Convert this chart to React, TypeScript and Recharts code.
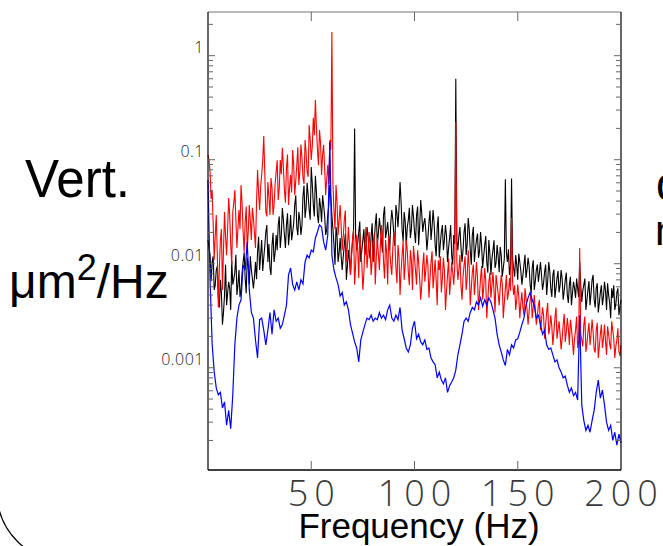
import { LineChart, Line, XAxis, YAxis } from "recharts";

// frequency grid (Hz)
const freqHz = [
  0, 1, 2, 3, 4, 5, 6, 7, 8, 9, 10, 11, 12, 13, 14, 15, 16, 17, 18, 19,
  20, 21, 22, 23, 24, 25, 26, 27, 28, 29, 30, 31, 32, 33, 34, 35, 36, 37, 38, 39,
  40, 41, 42, 43, 44, 45, 46, 47, 48, 49, 50, 51, 52, 53, 54, 55, 56, 57, 58, 59,
  60, 61, 62, 63, 64, 65, 66, 67, 68, 69, 70, 71, 72, 73, 74, 75, 76, 77, 78, 79,
  80, 81, 82, 83, 84, 85, 86, 87, 88, 89, 90, 91, 92, 93, 94, 95, 96, 97, 98, 99,
  100, 101, 102, 103, 104, 105, 106, 107, 108, 109, 110, 111, 112, 113, 114, 115, 116, 117, 118, 119,
  120, 121, 122, 123, 124, 125, 126, 127, 128, 129, 130, 131, 132, 133, 134, 135, 136, 137, 138, 139,
  140, 141, 142, 143, 144, 145, 146, 147, 148, 149, 150, 151, 152, 153, 154, 155, 156, 157, 158, 159,
  160, 161, 162, 163, 164, 165, 166, 167, 168, 169, 170, 171, 172, 173, 174, 175, 176, 177, 178, 179,
  180, 181, 182, 183, 184, 185, 186, 187, 188, 189, 190, 191, 192, 193, 194, 195, 196, 197, 198, 199,
  200,
];

// in-between bins (Hz) for the two noisier traces
const freqMidHz = [
  0.5, 1.5, 2.5, 3.5, 4.5, 5.5, 6.5, 7.5, 8.5, 9.5, 10.5, 11.5, 12.5, 13.5, 14.5, 15.5, 16.5, 17.5, 18.5, 19.5,
  20.5, 21.5, 22.5, 23.5, 24.5, 25.5, 26.5, 27.5, 28.5, 29.5, 30.5, 31.5, 32.5, 33.5, 34.5, 35.5, 36.5, 37.5, 38.5, 39.5,
  40.5, 41.5, 42.5, 43.5, 44.5, 45.5, 46.5, 47.5, 48.5, 49.5, 50.5, 51.5, 52.5, 53.5, 54.5, 55.5, 56.5, 57.5, 58.5, 59.5,
  60.5, 61.5, 62.5, 63.5, 64.5, 65.5, 66.5, 67.5, 68.5, 69.5, 70.5, 71.5, 72.5, 73.5, 74.5, 75.5, 76.5, 77.5, 78.5, 79.5,
  80.5, 81.5, 82.5, 83.5, 84.5, 85.5, 86.5, 87.5, 88.5, 89.5, 90.5, 91.5, 92.5, 93.5, 94.5, 95.5, 96.5, 97.5, 98.5, 99.5,
  100.5, 101.5, 102.5, 103.5, 104.5, 105.5, 106.5, 107.5, 108.5, 109.5, 110.5, 111.5, 112.5, 113.5, 114.5, 115.5, 116.5, 117.5, 118.5, 119.5,
  120.5, 121.5, 122.5, 123.5, 124.5, 125.5, 126.5, 127.5, 128.5, 129.5, 130.5, 131.5, 132.5, 133.5, 134.5, 135.5, 136.5, 137.5, 138.5, 139.5,
  140.5, 141.5, 142.5, 143.5, 144.5, 145.5, 146.5, 147.5, 148.5, 149.5, 150.5, 151.5, 152.5, 153.5, 154.5, 155.5, 156.5, 157.5, 158.5, 159.5,
  160.5, 161.5, 162.5, 163.5, 164.5, 165.5, 166.5, 167.5, 168.5, 169.5, 170.5, 171.5, 172.5, 173.5, 174.5, 175.5, 176.5, 177.5, 178.5, 179.5,
  180.5, 181.5, 182.5, 183.5, 184.5, 185.5, 186.5, 187.5, 188.5, 189.5, 190.5, 191.5, 192.5, 193.5, 194.5, 195.5, 196.5, 197.5, 198.5, 199.5,
];

// PSD, um^2/Hz
const blackPsd = [
  0.0169, 0.0121, 0.0104, 0.0056, 0.0087, 0.0047, 0.007, 0.0026, 0.005, 0.004,
  0.0067, 0.0036, 0.0063, 0.0083, 0.005, 0.0087, 0.0056, 0.0104, 0.0073, 0.0114,
  0.0063, 0.0087, 0.0058, 0.0104, 0.013, 0.0087, 0.0169, 0.0114, 0.0202, 0.0104,
  0.0091, 0.0151, 0.0104, 0.0189, 0.0236, 0.0142, 0.0343, 0.0189, 0.0236, 0.0151,
  0.0294, 0.0202, 0.0367, 0.0225, 0.0314, 0.0189, 0.045, 0.0275, 0.06, 0.0328,
  0.085, 0.0367, 0.07, 0.0294, 0.0428, 0.0252, 0.0367, 0.0189, 0.0294, 0.0571,
  0.0294, 0.0151, 0.0225, 0.0104, 0.0177, 0.0087, 0.0151, 0.007, 0.0135, 0.0078,
  0.0169, 0.2, 0.0135, 0.0202, 0.0104, 0.0169, 0.0121, 0.0225, 0.0135, 0.0189,
  0.0104, 0.0236, 0.0151, 0.0275, 0.0169, 0.0294, 0.0177, 0.0252, 0.0135, 0.0328,
  0.0189, 0.0367, 0.0225, 0.061, 0.0211, 0.0314, 0.0151, 0.0263, 0.0177, 0.0367,
  0.0202, 0.0294, 0.0151, 0.041, 0.0202, 0.0275, 0.0135, 0.0252, 0.0169, 0.0328,
  0.0151, 0.0225, 0.0114, 0.0202, 0.0135, 0.0236, 0.0104, 0.0177, 0.0121, 0.0189,
  0.6, 0.0135, 0.0225, 0.0104, 0.0202, 0.0121, 0.0275, 0.0135, 0.0189, 0.0104,
  0.0169, 0.0114, 0.0202, 0.0091, 0.0151, 0.0104, 0.0169, 0.0078, 0.0135, 0.0091,
  0.0151, 0.0083, 0.0121, 0.0091, 0.065, 0.0104, 0.0078, 0.066, 0.0091, 0.0121,
  0.007, 0.0104, 0.0063, 0.0097, 0.0073, 0.0114, 0.0063, 0.0091, 0.0056, 0.0087,
  0.0067, 0.0104, 0.0056, 0.0083, 0.005, 0.0104, 0.0058, 0.0078, 0.0047, 0.0073,
  0.0053, 0.0087, 0.0045, 0.007, 0.005, 0.0063, 0.004, 0.0067, 0.0047, 0.0058,
  0.0104, 0.0043, 0.0063, 0.0036, 0.0056, 0.004, 0.007, 0.0045, 0.0058, 0.0034,
  0.0053, 0.004, 0.0067, 0.0036, 0.005, 0.003, 0.0047, 0.0036, 0.0053, 0.0032,
  0.0045,
];

const blackMidPsd = [
  0.0142, 0.0068, 0.0118, 0.0062, 0.0095, 0.0038, 0.0052, 0.0034, 0.0098, 0.0052,
  0.0058, 0.0108, 0.0071, 0.0122, 0.0062, 0.0048, 0.0082, 0.0128, 0.0052, 0.0095,
  0.0118, 0.0072, 0.0075, 0.0071, 0.0182, 0.0122, 0.0085, 0.0148, 0.0235, 0.0155,
  0.0078, 0.0198, 0.0128, 0.0135, 0.0285, 0.0188, 0.0265, 0.0142, 0.0305, 0.0198,
  0.0168, 0.0245, 0.0455, 0.0188, 0.0265, 0.0235, 0.0565, 0.0345, 0.0455, 0.0265,
  0.0585, 0.0285, 0.0495, 0.0245, 0.0355, 0.0455, 0.0285, 0.0215, 0.0365, 0.0425,
  0.0215, 0.0098, 0.0185, 0.0128, 0.0115, 0.0118, 0.0195, 0.0095, 0.0108, 0.0125,
  0.0215, 0.0185, 0.0158, 0.0255, 0.0135, 0.0215, 0.0145, 0.0185, 0.0112, 0.0245,
  0.0165, 0.0305, 0.0198, 0.0215, 0.0128, 0.0355, 0.0205, 0.0185, 0.0245, 0.0265,
  0.0148, 0.0305, 0.0345, 0.0395, 0.0165, 0.0255, 0.0225, 0.0345, 0.0215, 0.0285,
  0.0158, 0.0355, 0.0225, 0.0305, 0.0245, 0.0205, 0.0178, 0.0325, 0.0225, 0.0245,
  0.0118, 0.0285, 0.0155, 0.0235, 0.0172, 0.0185, 0.0142, 0.0235, 0.0098, 0.0155,
  0.0168, 0.0185, 0.0145, 0.0135, 0.0245, 0.0152, 0.0215, 0.0098, 0.0225, 0.0138,
  0.0195, 0.0132, 0.0148, 0.0118, 0.0185, 0.0082, 0.0125, 0.0112, 0.0168, 0.0102,
  0.0118, 0.0145, 0.0075, 0.0112, 0.0128, 0.0138, 0.0095, 0.0112, 0.0075, 0.0098,
  0.0125, 0.0085, 0.0078, 0.0122, 0.0088, 0.0095, 0.0052, 0.0108, 0.0068, 0.0098,
  0.0082, 0.0078, 0.0065, 0.0098, 0.0068, 0.0085, 0.0048, 0.0088, 0.0058, 0.0085,
  0.0062, 0.0072, 0.0055, 0.0082, 0.0042, 0.0075, 0.0052, 0.0058, 0.0072, 0.0048,
  0.0062, 0.0055, 0.0072, 0.0045, 0.0068, 0.0052, 0.0078, 0.0038, 0.0065, 0.0042,
  0.0062, 0.0048, 0.0055, 0.0065, 0.0042, 0.0058, 0.0062, 0.0041, 0.0058, 0.0038,
];

const redPsd = [
  0.111, 0.076, 0.0511, 0.0109, 0.0294, 0.0038, 0.0169, 0.0056, 0.0314, 0.0121,
  0.0428, 0.0151, 0.0314, 0.0511, 0.0142, 0.0328, 0.0571, 0.0202, 0.0252, 0.0135,
  0.0367, 0.0169, 0.0275, 0.0142, 0.0796, 0.0328, 0.0713, 0.169, 0.0314, 0.061,
  0.0294, 0.0534, 0.0367, 0.0762, 0.041, 0.0993, 0.13, 0.0511, 0.0832, 0.0367,
  0.0713, 0.124, 0.0457, 0.0888, 0.0571, 0.14, 0.0667, 0.155, 0.0762, 0.216,
  0.0993, 0.253, 0.375, 0.124, 0.193, 0.0713, 0.139, 0.0457, 0.0888, 0.155,
  1.69, 0.0328, 0.0571, 0.0189, 0.0367, 0.0135, 0.0263, 0.0104, 0.0225, 0.0078,
  0.0169, 0.0063, 0.0189, 0.0073, 0.0142, 0.0056, 0.0151, 0.0091, 0.0202, 0.0078,
  0.0162, 0.0063, 0.0177, 0.0087, 0.0236, 0.0104, 0.0169, 0.0063, 0.0135, 0.0078,
  0.0202, 0.0091, 0.0151, 0.005, 0.0121, 0.007, 0.0169, 0.0083, 0.0135, 0.0056,
  0.0114, 0.0063, 0.0104, 0.0045, 0.0097, 0.0067, 0.0121, 0.0047, 0.0104, 0.0058,
  0.0109, 0.004, 0.0087, 0.0053, 0.0114, 0.0036, 0.0078, 0.005, 0.0104, 0.0063,
  0.23, 0.007, 0.0121, 0.0045, 0.0097, 0.0056, 0.0135, 0.004, 0.0083, 0.005,
  0.0104, 0.0036, 0.0073, 0.0045, 0.0091, 0.003, 0.0067, 0.0047, 0.0083, 0.0034,
  0.0063, 0.004, 0.0078, 0.003, 0.0058, 0.0045, 0.0073, 0.0275, 0.005, 0.0036,
  0.0063, 0.003, 0.0053, 0.0032, 0.0047, 0.0026, 0.0045, 0.003, 0.005, 0.0026,
  0.004, 0.0023, 0.0038, 0.0019, 0.0034, 0.0021, 0.0032, 0.00166, 0.003, 0.0019,
  0.0028, 0.0015, 0.0026, 0.00177, 0.003, 0.00166, 0.0024, 0.00133, 0.0023, 0.00155,
  0.0142, 0.00185, 0.0026, 0.00142, 0.0022, 0.00166, 0.0029, 0.0015, 0.0023, 0.00124,
  0.0021, 0.00155, 0.0026, 0.00133, 0.0021, 0.0015, 0.0023, 0.00124, 0.00185, 0.00142,
  0.00166,
];

const redMidPsd = [
  0.098, 0.042, 0.0245, 0.0185, 0.0125, 0.0092, 0.0215, 0.0135, 0.0185, 0.0215,
  0.0295, 0.0098, 0.0385, 0.0265, 0.0218, 0.0215, 0.0385, 0.0128, 0.0355, 0.0205,
  0.0255, 0.0345, 0.0195, 0.0385, 0.0485, 0.0555, 0.0985, 0.0745, 0.0285, 0.0435,
  0.0665, 0.0295, 0.0585, 0.0985, 0.0525, 0.0725, 0.0855, 0.0385, 0.112, 0.0535,
  0.0485, 0.0885, 0.0625, 0.132, 0.0785, 0.105, 0.0585, 0.118, 0.0685, 0.155,
  0.135, 0.172, 0.205, 0.0885, 0.145, 0.112, 0.0825, 0.0655, 0.0585, 0.125,
  0.0585, 0.0215, 0.0385, 0.0265, 0.0225, 0.0185, 0.0325, 0.0145, 0.0155, 0.0118,
  0.0212, 0.0098, 0.0135, 0.0195, 0.0098, 0.0082, 0.0225, 0.0125, 0.0145, 0.0108,
  0.0195, 0.0115, 0.0125, 0.0155, 0.0185, 0.0072, 0.0128, 0.0185, 0.0098, 0.0142,
  0.0165, 0.0065, 0.0118, 0.0085, 0.0165, 0.0098, 0.0135, 0.0062, 0.0108, 0.0148,
  0.0085, 0.0135, 0.0072, 0.0062, 0.0128, 0.0088, 0.0095, 0.0072, 0.0132, 0.0078,
  0.0068, 0.0108, 0.0118, 0.0072, 0.0085, 0.0055, 0.0112, 0.0068, 0.0082, 0.0095,
  0.0105, 0.0088, 0.0062, 0.0075, 0.0118, 0.0072, 0.0092, 0.0058, 0.0098, 0.0068,
  0.0075, 0.0052, 0.0095, 0.0058, 0.0068, 0.0045, 0.0082, 0.0062, 0.0055, 0.0078,
  0.0052, 0.0058, 0.0065, 0.0042, 0.0078, 0.0052, 0.0055, 0.0068, 0.0062, 0.0045,
  0.0048, 0.0042, 0.0038, 0.0058, 0.0036, 0.0035, 0.0052, 0.0038, 0.0035, 0.0032,
  0.0045, 0.0028, 0.0032, 0.0026, 0.0042, 0.0024, 0.0025, 0.0022, 0.0038, 0.0023,
  0.0021, 0.0019, 0.0033, 0.0022, 0.0024, 0.0029, 0.0018, 0.0019, 0.0031, 0.0018,
  0.0021, 0.0016, 0.0031, 0.0017, 0.0027, 0.0021, 0.0022, 0.0014, 0.0027, 0.0016,
  0.0026, 0.0019, 0.0018, 0.0025, 0.0017, 0.0028, 0.0019, 0.0016, 0.0024, 0.0013,
];

const bluePsd = [
  0.064, 0.007, 0.0017, 0.00091, 0.00064, 0.00055, 0.00058, 0.00041, 0.00047, 0.00028,
  0.00039, 0.00026, 0.00055, 0.00166, 0.003, 0.004, 0.0045, 0.0097, 0.0087, 0.0162,
  0.0056, 0.0034, 0.003, 0.00185, 0.00124, 0.0029, 0.003, 0.0023, 0.00166, 0.0023,
  0.0034, 0.0021, 0.0036, 0.0028, 0.003, 0.0024, 0.0026, 0.0032, 0.004, 0.0078,
  0.0091, 0.0063, 0.0056, 0.0067, 0.0056, 0.007, 0.0064, 0.0104, 0.0121, 0.0114,
  0.0135, 0.013, 0.0177, 0.0202, 0.0236, 0.0225, 0.0162, 0.0135, 0.0189, 0.148,
  0.0121, 0.0087, 0.0073, 0.0063, 0.0049, 0.0053, 0.004, 0.0043, 0.0036, 0.0026,
  0.00215, 0.00177, 0.00155, 0.00114, 0.00185, 0.0022, 0.0026, 0.003, 0.0029, 0.0032,
  0.0028, 0.003, 0.0029, 0.0034, 0.003, 0.0032, 0.0029, 0.0036, 0.004, 0.003,
  0.0028, 0.0032, 0.0029, 0.0038, 0.0023, 0.0019, 0.00155, 0.00142, 0.00166, 0.0024,
  0.0028, 0.0019, 0.0021, 0.00177, 0.00166, 0.00185, 0.0015, 0.00155, 0.00124, 0.00114,
  0.00107, 0.0008, 0.00091, 0.00076, 0.0007, 0.0008, 0.00058, 0.00067, 0.00073, 0.0008,
  0.00095, 0.00133, 0.00166, 0.0021, 0.0028, 0.003, 0.0028, 0.0034, 0.0038, 0.0036,
  0.0043, 0.004, 0.0047, 0.0039, 0.0045, 0.004, 0.0047, 0.0043, 0.0036, 0.003,
  0.0021, 0.00166, 0.00142, 0.00119, 0.00105, 0.0015, 0.00133, 0.00166, 0.00155, 0.00185,
  0.0019, 0.0022, 0.0026, 0.003, 0.004, 0.0047, 0.0053, 0.0045, 0.004, 0.003,
  0.0032, 0.0026, 0.0021, 0.0023, 0.00166, 0.0015, 0.00155, 0.00133, 0.00114, 0.00119,
  0.001, 0.00091, 0.0008, 0.00083, 0.00068, 0.00058, 0.00064, 0.00054, 0.00058, 0.00049,
  0.0032, 0.00044, 0.00031, 0.00025, 0.00028, 0.00024, 0.00031, 0.00039, 0.00058, 0.00076,
  0.00051, 0.00061, 0.00044, 0.0003, 0.00025, 0.00028, 0.0002, 0.00024, 0.00018, 0.00023,
  0.00019,
];

const xTicks = [50, 100, 150, 200];
const xTopTicks = [50, 100, 150];
const yMajorTicks = [0.001, 0.01, 0.1, 1];
const yMinorTicks = [
  0.0002, 0.0003, 0.0004, 0.0005, 0.0006, 0.0007, 0.0008, 0.0009,
  0.002, 0.003, 0.004, 0.005, 0.006, 0.007, 0.008, 0.009,
  0.02, 0.03, 0.04, 0.05, 0.06, 0.07, 0.08, 0.09,
  0.2, 0.3, 0.4, 0.5, 0.6, 0.7, 0.8, 0.9, 2,
];
const yAllTicks = [...yMinorTicks, ...yMajorTicks].sort((a, b) => a - b);
const yDomain = [0.000104, 2.63];

// black and red at half-Hz bins, blue at 1 Hz
const fineRows: { f: number; black: number; red: number }[] = [];
freqHz.forEach((f, i) => {
  fineRows.push({ f, black: blackPsd[i], red: redPsd[i] });
  if (i < freqMidHz.length) {
    fineRows.push({ f: freqMidHz[i], black: blackMidPsd[i], red: redMidPsd[i] });
  }
});
const blueRows = freqHz.map((f, i) => ({ f, blue: bluePsd[i] }));

const tickGrey = "#666";
const thinFont = "'Open Sans', 'DejaVu Sans', sans-serif";
const labelFont = "'Liberation Sans', Arial, sans-serif";

// eslint-disable-next-line @typescript-eslint/no-explicit-any
function LeftTick(props: any) {
  const { x, y, payload } = props;
  const major = yMajorTicks.includes(payload.value);
  return (
    <g>
      <line x1={x} x2={x + (major ? 7 : 5)} y1={y} y2={y} stroke={tickGrey} strokeWidth={1} />
      {major && (
        <text
          x={x - 4}
          y={y - 3}
          textAnchor="end"
          fontFamily={thinFont}
          fontWeight={300}
          fontSize={16}
          letterSpacing={0.5}
          fill="#222"
        >
          {String(payload.value)}
        </text>
      )}
    </g>
  );
}

// eslint-disable-next-line @typescript-eslint/no-explicit-any
function RightTick(props: any) {
  const { x, y, payload } = props;
  const major = yMajorTicks.includes(payload.value);
  return <line x1={x} x2={x - (major ? 7 : 5)} y1={y} y2={y} stroke={tickGrey} strokeWidth={1} />;
}

// eslint-disable-next-line @typescript-eslint/no-explicit-any
function BottomTick(props: any) {
  const { x, y, payload } = props;
  return (
    <g>
      {payload.value < 200 && <line x1={x} x2={x} y1={y} y2={y - 9} stroke={tickGrey} strokeWidth={1} />}
      <text
        x={x + 3}
        y={y + 36}
        textAnchor="middle"
        fontFamily={thinFont}
        fontWeight={300}
        fontSize={36}
        letterSpacing={6}
        fill="#3a3a3a"
      >
        {payload.value}
      </text>
    </g>
  );
}

// eslint-disable-next-line @typescript-eslint/no-explicit-any
function TopTick(props: any) {
  const { x, y } = props;
  return <line x1={x} x2={x} y1={y} y2={y + 9} stroke={tickGrey} strokeWidth={1} />;
}

export default function App() {
  return (
    <div
      style={{
        position: "absolute",
        left: 0,
        top: 0,
        width: 663,
        height: 546,
        overflow: "hidden",
        background: "#fff",
      }}
    >
      <LineChart
        width={663}
        height={546}
        data={fineRows}
        margin={{ top: 11, right: 41, bottom: 0, left: 0 }}
      >
        <XAxis
          dataKey="f"
          type="number"
          domain={[0, 200]}
          ticks={xTicks}
          interval={0}
          height={76}
          tickSize={0}
          tickMargin={0}
          tickLine={false}
          axisLine={{ stroke: "#000", strokeWidth: 1.5 }}
          tick={<BottomTick />}
        />
        <XAxis
          xAxisId="top"
          orientation="top"
          dataKey="f"
          type="number"
          domain={[0, 200]}
          ticks={xTopTicks}
          interval={0}
          height={1}
          tickSize={0}
          tickMargin={0}
          tickLine={false}
          axisLine={{ stroke: "#777", strokeWidth: 1.2 }}
          tick={<TopTick />}
        />
        <YAxis
          type="number"
          scale="log"
          domain={yDomain}
          allowDataOverflow
          ticks={yAllTicks}
          interval={0}
          width={208}
          tickSize={0}
          tickMargin={0}
          tickLine={false}
          axisLine={{ stroke: "#000", strokeWidth: 1.2 }}
          tick={<LeftTick />}
        />
        <YAxis
          yAxisId="right"
          orientation="right"
          dataKey="black"
          type="number"
          scale="log"
          domain={yDomain}
          allowDataOverflow
          ticks={yAllTicks}
          interval={0}
          width={1}
          tickSize={0}
          tickMargin={0}
          tickLine={false}
          axisLine={{ stroke: "#000", strokeWidth: 1.2 }}
          tick={<RightTick />}
        />
        <Line type="linear" dataKey="black" stroke="#000" strokeWidth={1.1} dot={false} isAnimationActive={false} />
        <Line type="linear" dataKey="red" stroke="#ff0000" strokeWidth={1.1} dot={false} isAnimationActive={false} />
        <Line
          type="linear"
          data={blueRows}
          dataKey="blue"
          stroke="#0000ff"
          strokeWidth={1.2}
          dot={false}
          isAnimationActive={false}
        />
      </LineChart>

      <svg
        width={663}
        height={546}
        style={{ position: "absolute", left: 0, top: 0, pointerEvents: "none" }}
      >
        <rect x={-3} y={-200} width={900} height={762} rx={70} fill="none" stroke="#000" strokeWidth={1.2} />
        <text
          x={25}
          y={197}
          fontFamily={labelFont}
          fontSize={54}
          textLength={105}
          lengthAdjust="spacingAndGlyphs"
          fill="#000"
        >
          Vert.
        </text>
        <text x={9} y={298} fontFamily={labelFont} fontSize={48} fill="#000">
          μm
          <tspan fontSize={36} dy={-18}>2</tspan>
          <tspan dy={18}>/Hz</tspan>
        </text>
        <text x={656} y={200} fontFamily={labelFont} fontSize={46} fill="#000">
          d
        </text>
        <text x={655} y={245} fontFamily={labelFont} fontSize={42} fill="#000">
          m
        </text>
        <text x={419} y={538} textAnchor="middle" fontFamily={labelFont} fontSize={35} fill="#000">
          Frequency (Hz)
        </text>
      </svg>
    </div>
  );
}
